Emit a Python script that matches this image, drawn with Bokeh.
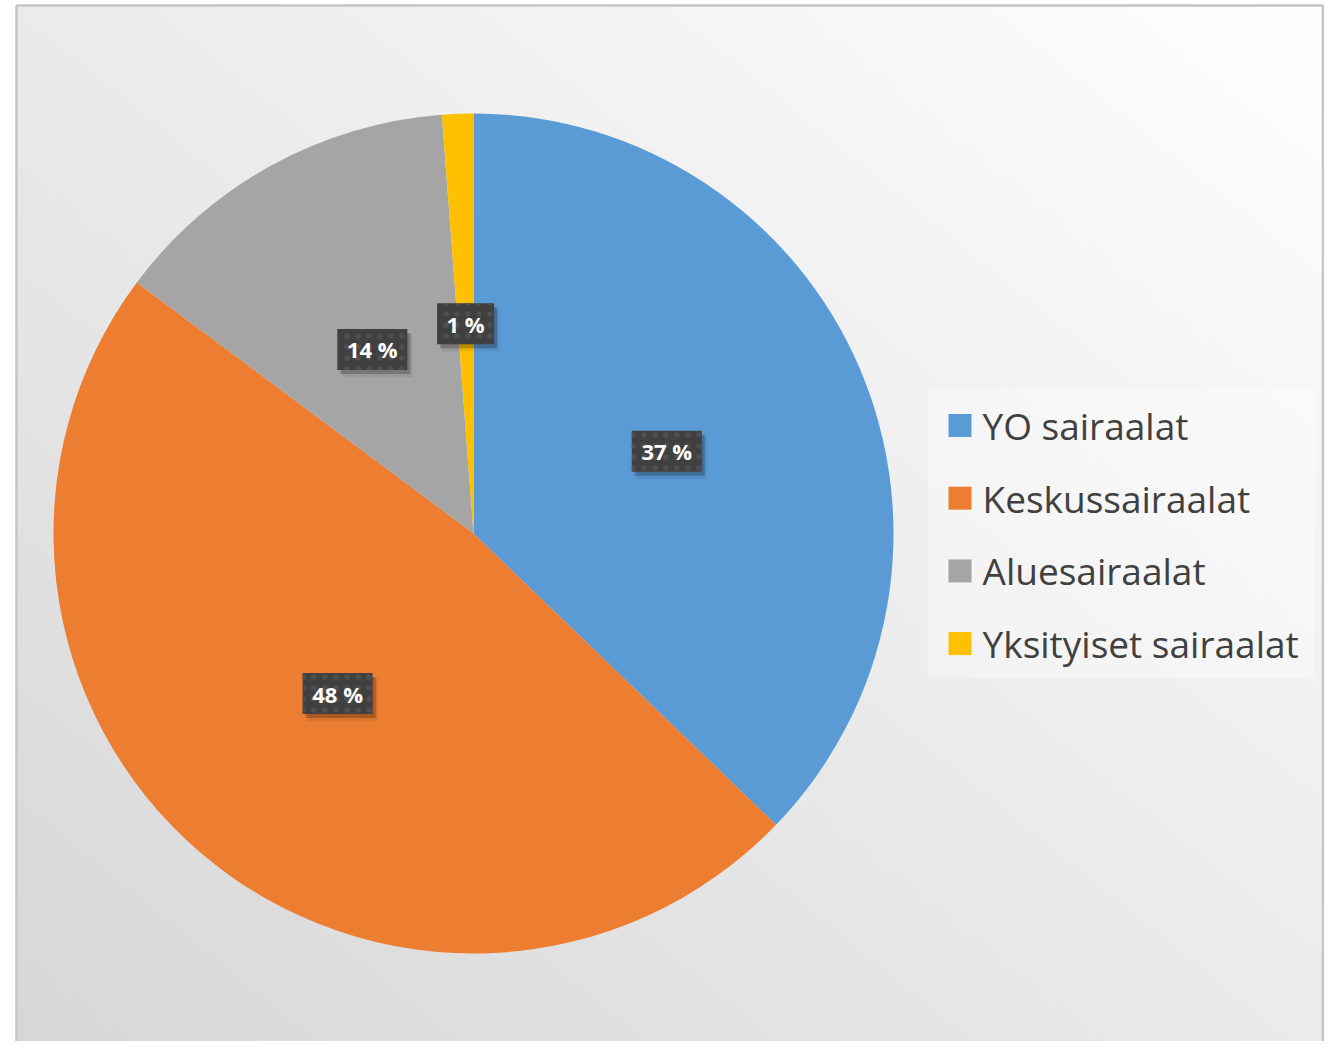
import numpy as np
from bokeh.plotting import figure
from bokeh.models import Range1d, ColumnDataSource
from bokeh.core.properties import value
from bokeh.embed import file_html
from bokeh.resources import INLINE

# ---- data ----
categories = ["YO sairaalat", "Keskussairaalat", "Aluesairaalat", "Yksityiset sairaalat"]
shares = [37.2, 48.0, 13.6, 1.2]
colors = ["#5B9BD5", "#ED7D31", "#A5A5A5", "#FFC000"]

# ---- layout (1 data unit = 1 screen pixel; y = -screen_y) ----
W, H = 1324, 1041
CX, CY, R = 473, -533, 420

p = figure(width=W, height=H, x_range=Range1d(0, W), y_range=Range1d(-H, 0),
           output_backend="svg", toolbar_location=None, min_border=0)
p.axis.visible = False
p.grid.visible = False
p.outline_line_color = None
p.background_fill_color = "white"
p.border_fill_color = "white"

# chart-area gradient background (top-right white -> bottom-left light gray)
n = 256
u = np.linspace(0, 1, n)[None, :]
v = np.linspace(0, 1, n)[:, None]
t = ((1 - u) + (1 - v)) / 2.0
g = (255 - 40 * t).astype(np.uint8)
img = np.zeros((n, n), dtype=np.uint32)
view = img.view(dtype=np.uint8).reshape((n, n, 4))
view[:, :, 0] = g
view[:, :, 1] = g
view[:, :, 2] = g
view[:, :, 3] = 255
fx0, fx1, fy0, fy1 = 17, 1322, 6, 1060
p.image_rgba(image=[img], x=fx0, y=-fy1, dw=fx1 - fx0, dh=fy1 - fy0)
p.quad(left=16, right=1322.5, top=-5, bottom=-1062, fill_color=None,
       line_color="#c4c4c4", line_width=2.5)

# pie
frac = np.array(shares) / sum(shares)
cum = np.concatenate([[0], np.cumsum(frac)])
start = np.pi / 2 - 2 * np.pi * cum[:-1]
end = np.pi / 2 - 2 * np.pi * cum[1:]
src = ColumnDataSource(dict(start=start, end=end, color=colors))
p.wedge(x=CX, y=CY, radius=R, start_angle="start", end_angle="end", direction="clock",
        fill_color="color", line_color=None, source=src)

# data labels
mid = (start + end) / 2
lx = CX + 0.5 * R * np.cos(mid)
ly = CY + 0.5 * R * np.sin(mid)
labels = [f"{round(s)} %" for s in shares]
bw = [18 + 13 * len(s) for s in labels]
lsrc = ColumnDataSource(dict(x=lx, y=ly, w=bw, text=labels,
                             sx1=lx + 3, sy1=ly - 4, sx2=lx + 5, sy2=ly - 6))
p.rect(x="sx2", y="sy2", width="w", height=43, fill_color="black", fill_alpha=0.08,
       line_color=None, source=lsrc)
p.rect(x="sx1", y="sy1", width="w", height=41, fill_color="black", fill_alpha=0.22,
       line_color=None, source=lsrc)
p.rect(x="x", y="y", width="w", height=41, fill_color="#404040", line_color=None,
       hatch_pattern="dot", hatch_color="#4f4f4f", hatch_scale=11, hatch_weight=1.5,
       source=lsrc)
p.text(x="x", y="y", text="text", text_align="center", text_baseline="middle",
       text_color="white", text_font=value("Open Sans"), text_font_style="bold",
       text_font_size="22px", source=lsrc)

# legend
p.quad(left=927, right=1314, top=-388, bottom=-678, fill_color="white", fill_alpha=0.35,
       line_color=None)
ys = [-(425 + 72.7 * i) for i in range(len(categories))]
gsrc = ColumnDataSource(dict(y=ys, color=colors, text=categories))
p.rect(x=959.5, y="y", width=23, height=23, fill_color="color", line_color=None, source=gsrc)
p.text(x=982, y="y", text="text", text_align="left", text_baseline="middle",
       text_color="#404040", text_font=value("Open Sans"), text_font_size="37px", source=gsrc)

open("out.html", "w").write(file_html(p, INLINE))
